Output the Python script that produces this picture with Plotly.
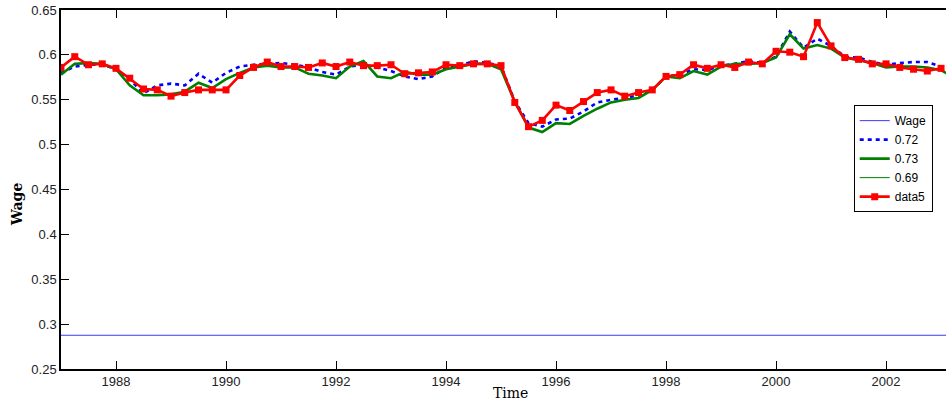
import plotly.graph_objects as go

# quarterly time stamps 1987.00 ... 2003.25
time = [1987 + q / 4 for q in range(66)]

wage_level = [0.2876] * 66

series_072 = [
    0.580, 0.587, 0.589, 0.589, 0.584, 0.573, 0.557, 0.566, 0.568, 0.566, 0.579, 0.569, 0.580, 0.587, 0.589, 0.590,
    0.591, 0.589, 0.586, 0.581, 0.578, 0.587, 0.589, 0.586, 0.582, 0.576, 0.573, 0.576, 0.586, 0.588, 0.593, 0.591,
    0.588, 0.548, 0.524, 0.520, 0.528, 0.529, 0.537, 0.547, 0.550, 0.552, 0.555, 0.561, 0.576, 0.578, 0.584, 0.583,
    0.588, 0.590, 0.593, 0.591, 0.598, 0.626, 0.608, 0.618, 0.610, 0.598, 0.597, 0.592, 0.589, 0.591, 0.592, 0.592,
    0.587, 0.583,
]

series_073 = [
    0.578, 0.590, 0.591, 0.590, 0.584, 0.566, 0.555, 0.555, 0.556, 0.559, 0.569, 0.563, 0.573, 0.580, 0.586, 0.588,
    0.586, 0.586, 0.579, 0.577, 0.574, 0.587, 0.593, 0.576, 0.574, 0.581, 0.578, 0.578, 0.584, 0.587, 0.590, 0.590,
    0.584, 0.548, 0.519, 0.514, 0.524, 0.523, 0.532, 0.540, 0.547, 0.550, 0.552, 0.561, 0.576, 0.574, 0.582, 0.578,
    0.587, 0.590, 0.590, 0.591, 0.597, 0.623, 0.607, 0.611, 0.607, 0.597, 0.594, 0.591, 0.586, 0.587, 0.587, 0.586,
    0.583, 0.574,
]

series_069 = list(series_073)

data5 = [
    0.586, 0.598, 0.589, 0.590, 0.585, 0.574, 0.562, 0.561, 0.554, 0.558, 0.561, 0.561, 0.561, 0.577, 0.586, 0.592,
    0.587, 0.587, 0.586, 0.591, 0.587, 0.592, 0.588, 0.588, 0.589, 0.579, 0.580, 0.581, 0.589, 0.588, 0.590, 0.590,
    0.588, 0.547, 0.520, 0.527, 0.544, 0.538, 0.548, 0.558, 0.561, 0.554, 0.558, 0.561, 0.576, 0.578, 0.589, 0.585,
    0.589, 0.586, 0.592, 0.590, 0.604, 0.603, 0.598, 0.636, 0.610, 0.597, 0.595, 0.590, 0.590, 0.586, 0.584, 0.582,
    0.585,
]

x_ticks = [1988, 1990, 1992, 1994, 1996, 1998, 2000, 2002]
y_ticks = [0.25, 0.3, 0.35, 0.4, 0.45, 0.5, 0.55, 0.6, 0.65]
y_tick_text = ["0.25", "0.3", "0.35", "0.4", "0.45", "0.5", "0.55", "0.6", "0.65"]

fig = go.Figure()
fig.add_trace(go.Scatter(x=time, y=wage_level, name="Wage", mode="lines",
                         line=dict(color="#3a3aff", width=1)))
fig.add_trace(go.Scatter(x=time, y=series_072, name="0.72", mode="lines",
                         line=dict(color="#0000ff", width=2.6, dash="4px,4px")))
fig.add_trace(go.Scatter(x=time, y=series_073, name="0.73", mode="lines",
                         line=dict(color="#008000", width=2.6)))
fig.add_trace(go.Scatter(x=time, y=series_069, name="0.69", mode="lines",
                         line=dict(color="#008000", width=1)))
fig.add_trace(go.Scatter(x=time[:len(data5)], y=data5, name="data5", mode="lines+markers",
                         line=dict(color="#ff0000", width=2.6),
                         marker=dict(symbol="square", size=7, color="#ff0000")))

fig.update_layout(
    width=946, height=409,
    margin=dict(l=61, r=0, t=10, b=40, autoexpand=False),
    paper_bgcolor="white", plot_bgcolor="white",
    font=dict(family="Liberation Sans, Arial, sans-serif", size=13, color="#222"),
    showlegend=True,
    legend=dict(x=0.985, xanchor="right", y=0.735, yanchor="top",
                bgcolor="white", bordercolor="black", borderwidth=1,
                font=dict(size=12, color="black"), tracegroupgap=0,
                itemwidth=30),
    annotations=[
        dict(text="Time", xref="paper", yref="paper", x=0.508, y=-0.067,
             xanchor="center", yanchor="middle", showarrow=False,
             font=dict(family="DejaVu Serif, serif", size=14, color="black")),
        dict(text="<b>Wage</b>", xref="paper", yref="paper", x=-0.0497, y=0.457,
             xanchor="center", yanchor="middle", showarrow=False, textangle=-90,
             font=dict(family="DejaVu Serif, serif", size=14, color="black")),
    ],
)
fig.update_xaxes(
    range=[1987.0, 2003.09], tickvals=x_ticks, ticktext=[str(v) for v in x_ticks],
    ticks="inside", ticklen=8, tickcolor="black", showline=True, linecolor="black",
    linewidth=1.5, mirror="ticks", showgrid=False, zeroline=False, automargin=False,
)
fig.update_yaxes(
    range=[0.25, 0.65], tickvals=y_ticks, ticktext=y_tick_text,
    ticks="inside", ticklen=8, tickcolor="black", showline=True, linecolor="black",
    linewidth=1.5, mirror=False, showgrid=False, zeroline=False, automargin=False,
)

fig.write_html(
    "out.html",
    config={"displayModeBar": False},
    post_script="document.body.style.margin='0';document.body.style.overflow='hidden';",
)
